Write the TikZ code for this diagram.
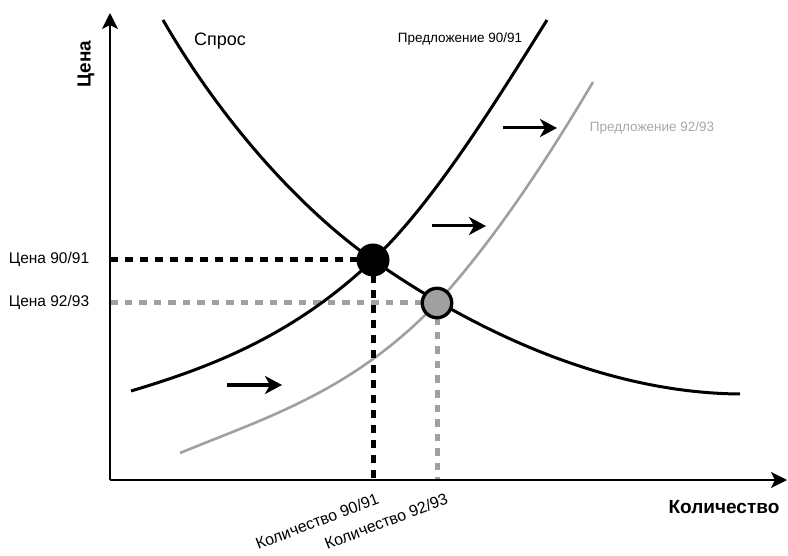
\documentclass[tikz,border=0pt]{standalone}
\usepackage{fontspec}
\setmainfont{Liberation Sans}
\usetikzlibrary{arrows.meta}
\definecolor{lgray}{HTML}{A0A0A0}
\definecolor{tgray}{HTML}{A8A8A8}
\begin{document}
\begin{tikzpicture}[x=1pt,y=-1pt,
  axis/.style={line width=1.6pt,-{Stealth[length=16pt,width=16pt,inset=4pt]}},
  bcurve/.style={line width=3pt,black},
  gcurve/.style={line width=2.6pt,lgray},
  shiftarrow/.style={line width=3pt,-{Stealth[length=17pt,width=18pt,inset=5pt]}},
  bdash/.style={line width=5pt,black,dash pattern=on 8pt off 7pt},
  gdash/.style={line width=5pt,lgray,dash pattern=on 7.5pt off 7pt},
  lab/.style={inner sep=0pt,font=\fontsize{15.5}{18}\selectfont},
  boldlab/.style={inner sep=0pt,font=\bfseries\fontsize{19}{22}\selectfont},
  qlab/.style={inner sep=0pt,font=\fontsize{16}{19}\selectfont,rotate=21,anchor=north east},
  dot/.style={circle,inner sep=0pt}
]
\useasboundingbox (0,0) rectangle (788,556);

% axes endpoints
\coordinate (O) at (110,480);
\coordinate (ytip) at (110,13);
\coordinate (xtip) at (787,480);

% equilibrium points
\coordinate (E1) at (373,260);
\coordinate (E2) at (437,303);

% curve end points
\coordinate (D0) at (163,20);
\coordinate (D1) at (740,394);
\coordinate (S0) at (131,391);
\coordinate (S1) at (547,20);
\coordinate (T0) at (180,453);
\coordinate (T1) at (593,82);

% supply 92/93 (gray)
\draw[gcurve] (T0) .. controls (265,418) and (352,392) .. (E2)
                   .. controls (489,246) and (541,170) .. (T1);

% gray dashed
\coordinate (P2) at (110,303);
\coordinate (Q2) at (437,480);
\draw[gdash] (P2) -- (E2);
\draw[gdash] (E2) -- (Q2);

% demand
\draw[bcurve] (D0) .. controls (223,124) and (303,211) .. (E1)
                   .. controls (480,335) and (610,393) .. (D1);
% supply 90/91
\draw[bcurve] (S0) .. controls (211,367) and (293,336) .. (E1)
                   .. controls (431,205) and (489,113) .. (S1);

% black dashed
\coordinate (P1) at (110,260);
\coordinate (Q1) at (373,480);
\draw[bdash] (P1) -- (E1);
\draw[bdash] (E1) -- (Q1);

% dots
\node[dot,fill=black,minimum size=33pt] (e1) at (E1) {};
\node[dot,fill=lgray,draw=black,line width=3.3pt,minimum size=29.5pt] (e2) at (E2) {};

% axes
\draw[axis] (O) -- (ytip);
\draw[axis] (O) -- (xtip);

% shift arrows
\coordinate (a1s) at (227,385); \coordinate (a1e) at (282,385);
\coordinate (a2s) at (432,226); \coordinate (a2e) at (486,226);
\coordinate (a3s) at (503,128); \coordinate (a3e) at (557,128);
\draw[shiftarrow] (a1s) -- (a1e);
\draw[shiftarrow] (a2s) -- (a2e);
\draw[shiftarrow] (a3s) -- (a3e);

% labels
\node[boldlab,rotate=90] (ylab) at (86,64) {Цена};
\node[boldlab] (xlab) at (724,507) {Количество};
\node[inner sep=0pt,font=\fontsize{18}{21}\selectfont] (dlab) at (220,41) {Спрос};
\node[inner sep=0pt,font=\fontsize{13.5}{16}\selectfont] (s1lab) at (460,39) {Предложение 90/91};
\node[inner sep=0pt,font=\fontsize{13.5}{16}\selectfont,text=tgray] (s2lab) at (652,128) {Предложение 92/93};
\node[lab] (p1lab) at (49,259) {Цена 90/91};
\node[lab] (p2lab) at (49,302) {Цена 92/93};
\node[qlab] (q1lab) at (376,492) {Количество 90/91};
\node[qlab] (q2lab) at (445,492) {Количество 92/93};
\end{tikzpicture}
\end{document}
